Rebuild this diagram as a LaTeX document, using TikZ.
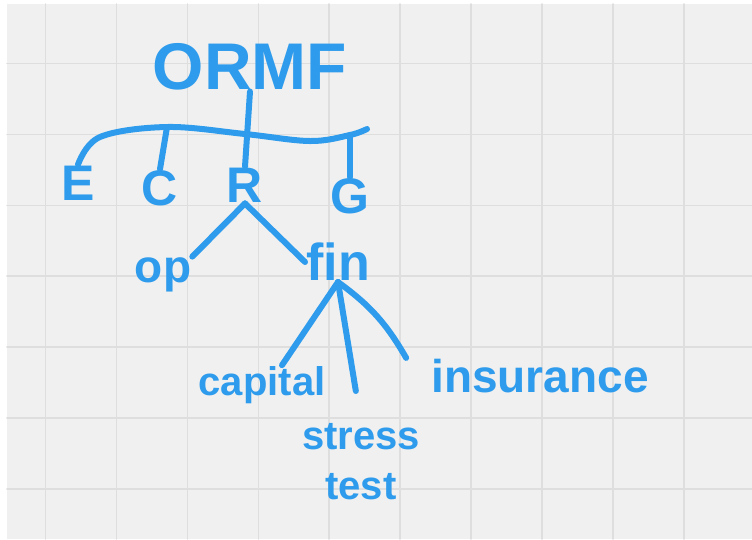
\documentclass[tikz,border=0pt]{standalone}
\usepackage{fontspec}
\setmainfont{Liberation Sans}
\usepackage{tikz}
\usetikzlibrary{positioning}
\definecolor{inkblue}{RGB}{46,155,236}
\definecolor{paper}{RGB}{240,240,240}
\definecolor{gridgray}{RGB}{222,222,222}

\begin{document}
\begin{tikzpicture}[x=1pt,y=-1pt,on grid,line cap=round,line join=round,
      ink/.style={draw=inkblue,line width=6pt},
      gridline/.style={draw=gridgray,line width=1.6pt},
      big node/.style={text=inkblue,inner sep=1pt,font=\fontsize{66}{66}\selectfont\bfseries},
      letter node/.style={text=inkblue,inner sep=1pt,font=\fontsize{50}{50}\selectfont\bfseries},
      word node/.style={text=inkblue,inner sep=1pt,font=\fontsize{46}{46}\selectfont\bfseries}]
      % paper and grid
      \useasboundingbox (0,0) rectangle (752,539);
      \fill[white] (0,0) rectangle (752,539);
      \fill[paper] (7,4) rectangle (752,539);
      \foreach \gx in {0,...,9}
        \draw[gridline] (45.6+70.9*\gx,4) -- (45.6+70.9*\gx,539);
      \foreach \gy in {0,...,6}
        \draw[gridline] (7,63.5+70.9*\gy) -- (752,63.5+70.9*\gy);

      \node[big node] (o) at (250,67) {ORMF};
      \node[letter node] (e) [below left=116pt and 172pt of o] {E};
      \node[letter node] (c) [below left=121pt and 90pt of o] {C};
      \node[letter node] (r) [below left=118pt and 5pt of o] {R};
      \node[letter node] (g) [below right=129pt and 100pt of o] {G};
      \node[word node] (op) [below left=90pt and 82pt of r] {op};
      \node[word node,font=\fontsize{52}{52}\selectfont\bfseries] (fin) [below right=77pt and 93pt of r] {fin};
      \node[word node,font=\fontsize{40}{40}\selectfont\bfseries] (cap) [below left=123pt and 76pt of fin] {capital};
      \node[word node,font=\fontsize{40}{50}\selectfont\bfseries,align=center] (st) [below right=200pt and 23pt of fin] {stress\\test};
      \node[word node,font=\fontsize{46}{46}\selectfont\bfseries] (ins) [below right=114pt and 202pt of fin] {insurance};

      % the bar under ORMF
      \coordinate (bl) at (100,137);
      \coordinate (bc) at (167,127);
      \coordinate (bm) at (245,134);
      \coordinate (bg) at (350,135);
      \coordinate (bx) at (367,129);
      \draw[ink] plot[smooth,tension=0.6] coordinates {(e.north) (bl) (bc) (bm) (310,141) (bg) (bx)};

      \path[ink]
        (o.south) edge (r.north)
        (bc) edge (c.north)
        (bg) edge (g.north)
        (r.south) edge (op.north east)
        (r.south) edge (fin.west)
        (fin.south) edge ([xshift=20pt]cap.north)
        (fin.south) edge [shorten >=32pt] (st.north)
        (fin.south) edge [bend left=12] ([xshift=-24pt]ins.north west);
    \end{tikzpicture}
\end{document}
